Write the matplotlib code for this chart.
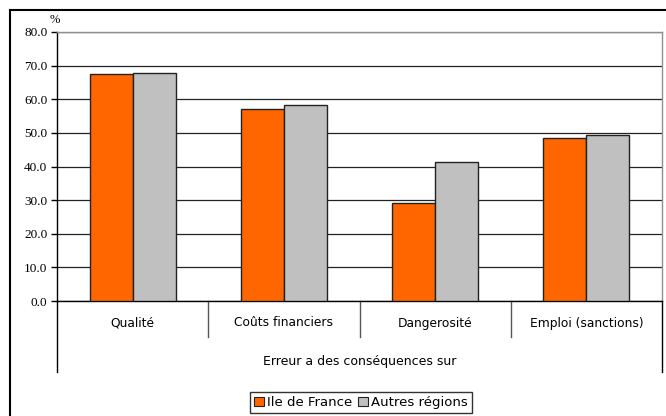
"""Erreur a des conséquences sur : Ile de France vs Autres régions."""

import matplotlib
matplotlib.use("Agg")
import matplotlib.pyplot as plt
from matplotlib.lines import Line2D
from matplotlib.patches import Patch

categories = ["Qualité", "Coûts financiers", "Dangerosité", "Emploi (sanctions)"]
idf_values = [67.6, 57.1, 29.2, 48.4]
autres_values = [67.9, 58.4, 41.2, 49.3]
series_labels = ["Ile de France", "Autres régions"]
group_label = "Erreur a des conséquences sur"
yticks = [0, 10, 20, 30, 40, 50, 60, 70, 80]

ORANGE = "#FF6600"
GREY = "#C0C0C0"
EDGE = "#222222"
SANS = ["DejaVu Sans"]
SERIF = ["Liberation Serif", "DejaVu Serif"]

W, H = 666, 416
fig = plt.figure(figsize=(W / 100, H / 100), dpi=100)

# plot area in pixels: x 57..662, y 32..301
left, right, top, bottom = 57, 662, 32, 301
ax = fig.add_axes([left / W, 1 - bottom / H, (right - left) / W, (bottom - top) / H])

width = 0.284
x = list(range(len(categories)))
ax.bar([i - width / 2 for i in x], idf_values, width, color=ORANGE,
       edgecolor=EDGE, linewidth=1.0, zorder=3)
ax.bar([i + width / 2 for i in x], autres_values, width, color=GREY,
       edgecolor=EDGE, linewidth=1.0, zorder=3)

ax.set_xlim(-0.5, len(categories) - 0.5)
ax.set_ylim(0, 80)
ax.set_yticks(yticks)
ax.set_yticklabels([f"{v:.1f}" for v in yticks], family=SERIF, fontsize=9.5)
ax.tick_params(axis="y", length=4, width=1, pad=3, direction="out")
ax.set_xticks([])
ax.yaxis.grid(True, color="#222222", linewidth=0.9, zorder=0)
ax.set_axisbelow(True)

for side in ("top", "right"):
    ax.spines[side].set_color("#909090")
    ax.spines[side].set_linewidth(1.0)
for side in ("left", "bottom"):
    ax.spines[side].set_color("black")
    ax.spines[side].set_linewidth(1.0)

# category table under the axis
ph = bottom - top
sep_y = -(337 - bottom) / ph
out_y = -(372 - bottom) / ph
for xs in (0.25, 0.5, 0.75):
    ax.add_line(Line2D([xs, xs], [0, sep_y], transform=ax.transAxes,
                       color="#555555", linewidth=1.0, clip_on=False))
for xs in (0.0, 1.0):
    ax.add_line(Line2D([xs, xs], [0, out_y], transform=ax.transAxes,
                       color="black", linewidth=1.0, clip_on=False))

for i, cat in enumerate(categories):
    ax.text((i + 0.5) / len(categories), -(323 - bottom) / ph, cat,
            transform=ax.transAxes, ha="center", va="center",
            family=SANS, fontsize=8.8)
ax.text(0.5, -(361 - bottom) / ph, group_label, transform=ax.transAxes,
        ha="center", va="center", family=SANS, fontsize=9)

ax.text(55 / W, 1 - 20 / H, "%", transform=fig.transFigure, ha="center",
        va="center", family=SERIF, fontsize=9)

# legend
handles = [Patch(facecolor=ORANGE, edgecolor=EDGE, linewidth=0.8),
           Patch(facecolor=GREY, edgecolor=EDGE, linewidth=0.8)]
leg = fig.legend(handles, series_labels, loc="center",
                 bbox_to_anchor=(361 / W, 1 - 402.5 / H), ncol=2,
                 frameon=True, fancybox=False, borderpad=0.3,
                 handlelength=0.75, handleheight=0.75, handletextpad=0.25,
                 columnspacing=0.4, borderaxespad=0,
                 prop={"family": SANS, "size": 9.5})
leg.get_frame().set_edgecolor("black")
leg.get_frame().set_linewidth(1.0)

# outer chart border (cropped at right and bottom)
fig.add_artist(Line2D([10 / W, 10 / W], [0, 1 - 9.5 / H],
                      transform=fig.transFigure, color="black", linewidth=1.5))
fig.add_artist(Line2D([10 / W, 1], [1 - 9.5 / H, 1 - 9.5 / H],
                      transform=fig.transFigure, color="black", linewidth=1.5))

fig.savefig("out.png", dpi=100)
